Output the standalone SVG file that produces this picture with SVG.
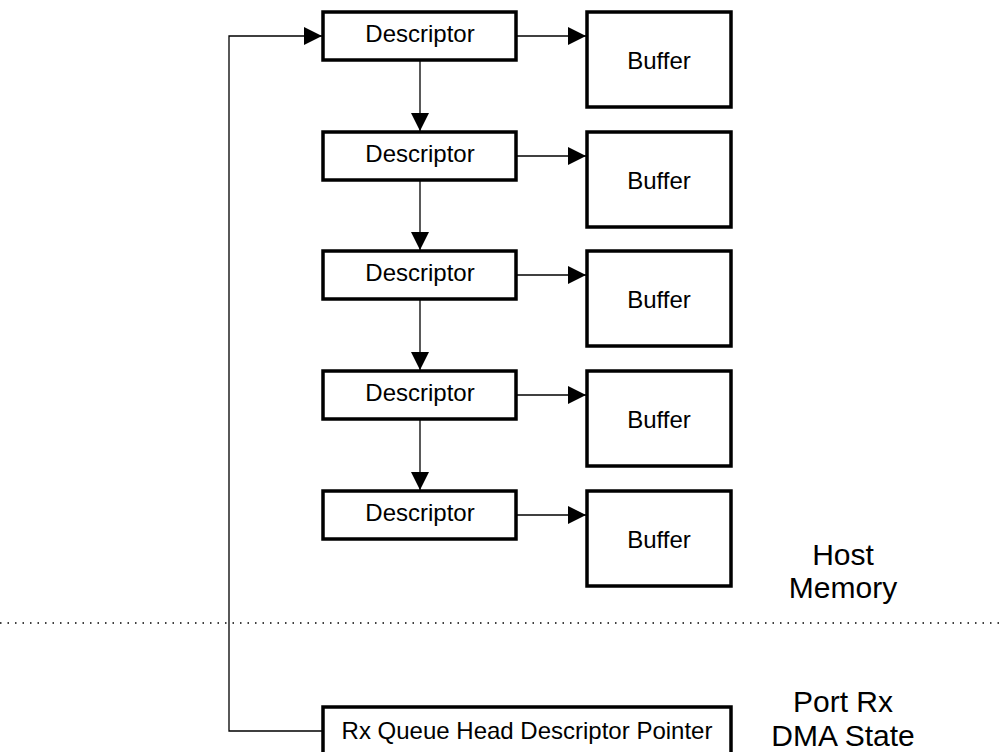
<svg xmlns="http://www.w3.org/2000/svg" width="1003" height="752" viewBox="0 0 1003 752">
<style>
.box{fill:#fff;stroke:#000;stroke-width:3.5}
.t{font-family:"Liberation Sans",Arial,sans-serif;font-size:24px;fill:#000;text-anchor:middle}
.big{font-family:"Liberation Sans",Arial,sans-serif;font-size:30px;fill:#000;text-anchor:middle}
.ln{fill:none;stroke:#000;stroke-width:1.3}
</style>
<defs>
<marker id="ah" markerWidth="18" markerHeight="18" viewBox="0 0 18 18" refX="18" refY="9" orient="auto" markerUnits="userSpaceOnUse">
<path d="M0,0 L18,9 L0,18 Z" fill="#000"/>
</marker>
</defs>
<g id="connectors">
<path class="ln" d="M322,731 H229 V36 H322" marker-end="url(#ah)"/>
<path class="ln" d="M516,36 H586" marker-end="url(#ah)"/>
<path class="ln" d="M516,156 H586" marker-end="url(#ah)"/>
<path class="ln" d="M516,275 H586" marker-end="url(#ah)"/>
<path class="ln" d="M516,395 H586" marker-end="url(#ah)"/>
<path class="ln" d="M516,515 H586" marker-end="url(#ah)"/>
<path class="ln" d="M420,60 V131" marker-end="url(#ah)"/>
<path class="ln" d="M420,180 V250" marker-end="url(#ah)"/>
<path class="ln" d="M420,299 V370" marker-end="url(#ah)"/>
<path class="ln" d="M420,419 V490" marker-end="url(#ah)"/>
</g>
<line x1="0" y1="623" x2="1003" y2="623" stroke="#000" stroke-width="1.5" stroke-dasharray="1.5,6"/>
<g id="desc1"><rect class="box" x="323" y="12" width="193" height="48"/><text class="t" x="420" y="42">Descriptor</text></g>
<g id="desc2"><rect class="box" x="323" y="132" width="193" height="48"/><text class="t" x="420" y="162">Descriptor</text></g>
<g id="desc3"><rect class="box" x="323" y="251" width="193" height="48"/><text class="t" x="420" y="281">Descriptor</text></g>
<g id="desc4"><rect class="box" x="323" y="371" width="193" height="48"/><text class="t" x="420" y="401">Descriptor</text></g>
<g id="desc5"><rect class="box" x="323" y="491" width="193" height="48"/><text class="t" x="420" y="521">Descriptor</text></g>
<g id="buf1"><rect class="box" x="587" y="12" width="144" height="95"/><text class="t" x="659" y="69">Buffer</text></g>
<g id="buf2"><rect class="box" x="587" y="132" width="144" height="95"/><text class="t" x="659" y="189">Buffer</text></g>
<g id="buf3"><rect class="box" x="587" y="251" width="144" height="95"/><text class="t" x="659" y="308">Buffer</text></g>
<g id="buf4"><rect class="box" x="587" y="371" width="144" height="95"/><text class="t" x="659" y="428">Buffer</text></g>
<g id="buf5"><rect class="box" x="587" y="491" width="144" height="95"/><text class="t" x="659" y="548">Buffer</text></g>
<g id="rxptr"><rect class="box" x="323" y="707" width="408" height="48"/><text class="t" x="527" y="739">Rx Queue Head Descriptor Pointer</text></g>
<g id="hostmem"><text class="big" x="843" y="565">Host</text><text class="big" x="843" y="598">Memory</text></g>
<g id="portrx"><text class="big" x="843" y="712">Port Rx</text><text class="big" x="843" y="746">DMA State</text></g>
</svg>
